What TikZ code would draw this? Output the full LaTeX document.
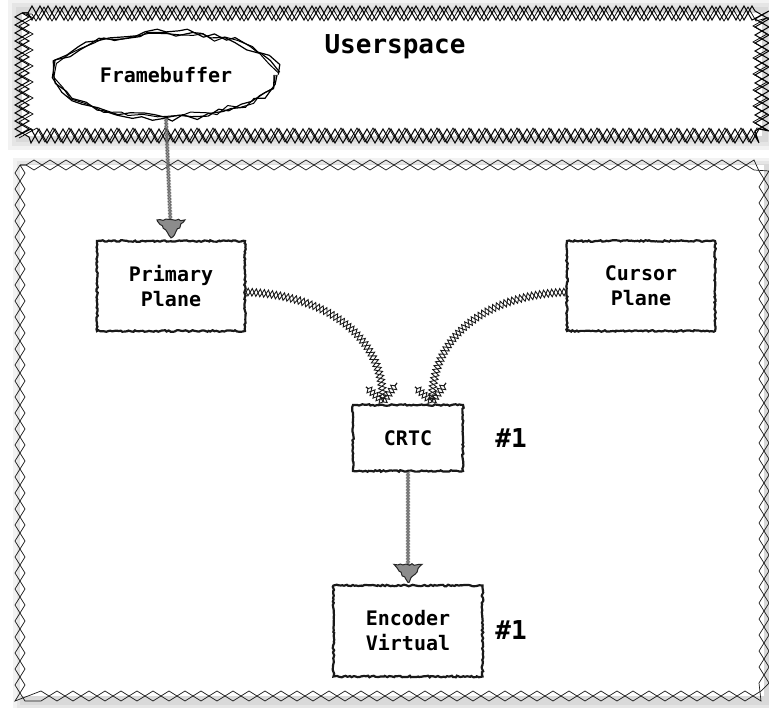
\documentclass[tikz,border=0pt]{standalone}
\usepackage{fontspec}
\setmonofont{DejaVu Sans Mono}
\usetikzlibrary{decorations.pathmorphing,shapes.geometric,calc}
\tikzset{
  fnt/.style={font=\ttfamily\bfseries\fontsize{20}{25}\selectfont},
  sketchbox/.style={rectangle, draw=black!90, line width=2.2pt, fill=white, fnt, align=center,
    minimum width=148pt, minimum height=90pt, inner sep=0pt,
    decorate, decoration={random steps, segment length=2pt, amplitude=0.8pt}},
  numlabel/.style={font=\ttfamily\bfseries\fontsize{26}{30}\selectfont, inner sep=0pt},
  titlelabel/.style={font=\ttfamily\bfseries\fontsize{26}{30}\selectfont, inner sep=0pt},
  fbell/.style={ellipse, fill=white, fnt, minimum width=220pt, minimum height=86pt, inner sep=0pt},
  roughline/.style={draw=black, line width=1.2pt, decorate,
    decoration={random steps, segment length=12pt, amplitude=3.5pt}},
  bandA/.style={draw=black, line width=1pt, decorate, decoration={zigzag, segment length=16pt, amplitude=7pt}},
  bandB/.style={draw=black, line width=1pt, decorate, decoration={zigzag, segment length=16pt, amplitude=-7pt}},
  thinA/.style={draw=black!90, line width=0.7pt, decorate, decoration={zigzag, segment length=32pt, amplitude=5pt}},
  thinB/.style={draw=black!90, line width=0.7pt, decorate, decoration={zigzag, segment length=32pt, amplitude=-5pt}},
  ropeA/.style={draw=black!90, line width=0.9pt, decorate, decoration={zigzag, segment length=8pt, amplitude=3.8pt}},
  ropeB/.style={draw=black!90, line width=0.9pt, decorate, decoration={zigzag, segment length=8pt, amplitude=-3.8pt}},
  twistA/.style={draw=black!60, line width=0.6pt, decorate, decoration={zigzag, segment length=3pt, amplitude=1.6pt}},
  twistB/.style={draw=black!60, line width=0.6pt, decorate, decoration={zigzag, segment length=3pt, amplitude=-1.6pt}},
  headtri/.style={fill=black!45, draw=black!85, line width=1pt},
  softshadow/.style={draw=black, opacity=0.05},
}
\begin{document}
\begin{tikzpicture}[x=1pt,y=-1pt]
\useasboundingbox (0,0) rectangle (769,708);
\fill[white] (0,0) rectangle (769,708);

% ---------- lower group ----------
\foreach \w in {22,15,9} {\draw[softshadow, line width=\w pt] (24,169) rectangle (766,700);}
\fill[white] (20,165) rectangle (764,696);
\draw[thinA] (20,165) rectangle (764,696);
\draw[thinB] (20,165) rectangle (764,696);

% ---------- userspace group ----------
\foreach \w in {28,20,12} {\draw[softshadow, line width=\w pt] (22,13) rectangle (762,136);}
\fill[white] (22,13) rectangle (762,136);
\draw[bandA] (22,13) rectangle (762,136);
\draw[bandB] (22,13) rectangle (762,136);
\draw[bandA, line width=0.7pt] (26,14) rectangle (760,135);

% ---------- nodes ----------
\node[titlelabel] (us) at (395,47) {Userspace};
\node[fbell] (fb) at (166,75) {Framebuffer};
\draw[roughline] (fb.center) ellipse (109 and 42);
\draw[roughline] (fb.center) ellipse (111 and 43);
\draw[roughline, line width=1pt] (fb.center) ellipse (108 and 41);

\node[sketchbox] (pp) at (171,286) {Primary\\Plane};
\node[sketchbox] (cp) at (641,286) {Cursor\\Plane};
\node[sketchbox, minimum width=110pt, minimum height=66pt] (crtc) at (408,438) {CRTC};
\node[sketchbox, minimum width=149pt, minimum height=91pt] (enc) at (408,631) {Encoder\\Virtual};
\node[numlabel] (n1) at (511,438) {\#1};
\node[numlabel] (n2) at (511,630) {\#1};

% ---------- straight arrows ----------
\draw[twistA] (fb.south) -- ([yshift=4pt]pp.north);
\draw[twistB] (fb.south) -- ([yshift=4pt]pp.north);
\draw[headtri, decorate, decoration={random steps, segment length=3pt, amplitude=0.9pt}]
  ([yshift=2pt]pp.north) -- ++(-14,-18) -- ++(28,0) -- cycle;

\draw[twistA] (crtc.south) -- ([yshift=4pt]enc.north);
\draw[twistB] (crtc.south) -- ([yshift=4pt]enc.north);
\draw[headtri, decorate, decoration={random steps, segment length=3pt, amplitude=0.9pt}]
  ([yshift=2pt]enc.north) -- ++(-14,-18) -- ++(28,0) -- cycle;

% ---------- curved arrows ----------
\coordinate (t1) at ([xshift=-25pt,yshift=2pt]crtc.north);
\coordinate (t2) at ([xshift=24pt,yshift=2pt]crtc.north);
\coordinate (s1) at ([yshift=-6pt]pp.east);
\coordinate (s2) at ([yshift=-6pt]cp.west);

\draw[ropeA] (s1) .. controls +(75,3) and +(0,-70) .. (t1);
\draw[ropeB] (s1) .. controls +(75,3) and +(0,-70) .. (t1);
\draw[ropeA] (s2) .. controls +(-75,3) and +(0,-70) .. (t2);
\draw[ropeB] (s2) .. controls +(-75,3) and +(0,-70) .. (t2);

\foreach \t in {t1,t2} {
  \draw[ropeA, line width=0.9pt] (\t) -- ++(-17,-15);
  \draw[ropeB, line width=0.9pt] (\t) -- ++(-17,-15);
  \draw[ropeA, line width=0.9pt] (\t) -- ++(14,-19);
  \draw[ropeB, line width=0.9pt] (\t) -- ++(14,-19);
}
\end{tikzpicture}
\end{document}
